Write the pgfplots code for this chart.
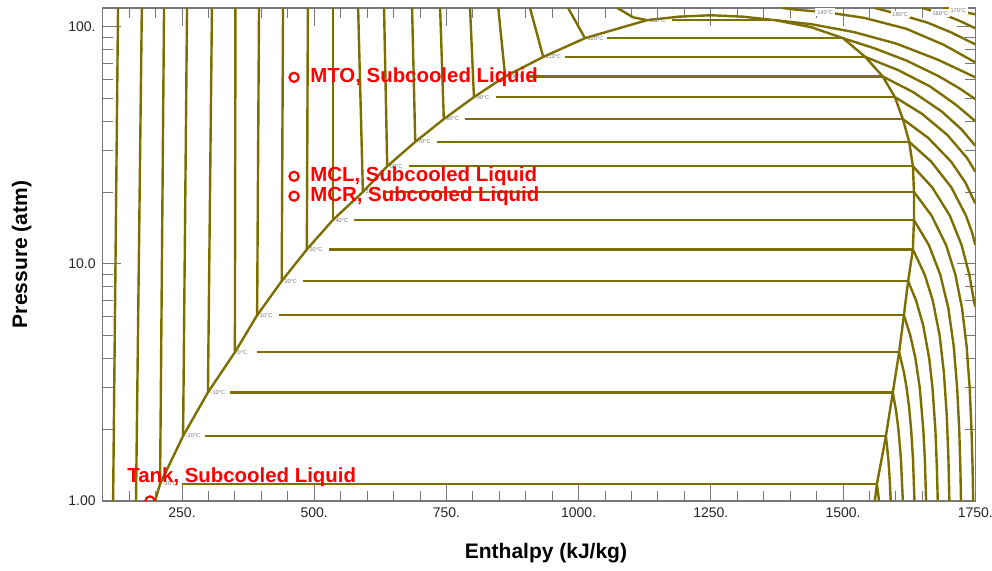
\documentclass[border=0pt]{standalone}
\usepackage{fontspec}
\setmainfont{Liberation Sans}
\usepackage{pgfplots}
\pgfplotsset{compat=1.18}
\definecolor{isoc}{RGB}{125,110,0}
\definecolor{frm}{RGB}{120,120,120}
\pgfplotsset{isol/.style={draw=isoc, line width=1.2pt, mark=none}}
\tikzset{
  tl/.style={anchor=west, xshift=1.2pt, font=\fontsize{2.8}{3}\selectfont, text=black!55, inner sep=0pt},
  tt/.style={anchor=center, font=\fontsize{2.8}{3}\selectfont, text=black!55, fill=white, inner sep=0.9pt},
  rl/.style={anchor=west, text=red, font=\bfseries\fontsize{10.2}{12}\selectfont, inner sep=0pt},
}

\begin{document}
\begin{tikzpicture}
\useasboundingbox (-51.35pt,-35pt) rectangle (444.65pt,250.5pt);
\begin{axis}[
  scale only axis, width=436.3pt, height=246.5pt,
  ymode=log, xmin=100, xmax=1750, ymin=1, ymax=120,
  xtick={250,500,...,1750},
  xticklabels={250.,500.,750.,1000.,1250.,1500.,1750.},
  minor xtick={150,200,...,1700},
  ytick={1,10,100}, yticklabels={1.00,10.0,100.},
  minor ytick={2,3,4,5,6,7,8,9,20,30,40,50,60,70,80,90},
  tick align=inside,
  major tick length=9pt, minor tick length=5pt,
  tick style={frm, line width=0.5pt},
  axis line style={frm, line width=0.6pt},
  ticklabel style={font=\fontsize{7}{8}\selectfont, text=black!85},
  xlabel={Enthalpy (kJ/kg)}, ylabel={Pressure (atm)},
  label style={font=\bfseries\fontsize{10.5}{12}\selectfont},
  xlabel style={at={(axis description cs:0.508,-0.1055)}, anchor=center},
  ylabel style={at={(axis description cs:-0.0928,0.5)}, anchor=center},
  clip marker paths=true,
]
% two-phase isotherms (start after the label gap)
\addplot[isol] coordinates {(250,1.18) (1564,1.18)};
\addplot[isol] coordinates {(293,1.88) (1581,1.88)};
\addplot[isol] coordinates {(340,2.87) (1594,2.87)};
\addplot[isol] coordinates {(391,4.24) (1606,4.24)};
\addplot[isol] coordinates {(433,6.07) (1615,6.07)};
\addplot[isol] coordinates {(479.5,8.46) (1623,8.46)};
\addplot[isol] coordinates {(527,11.5) (1632,11.5)};
\addplot[isol] coordinates {(576,15.3) (1634,15.3)};
\addplot[isol] coordinates {(633,20.1) (1634,20.1)};
\addplot[isol] coordinates {(679,25.8) (1632,25.8)};
\addplot[isol] coordinates {(732,32.7) (1625,32.7)};
\addplot[isol] coordinates {(786,40.8) (1613,40.8)};
\addplot[isol] coordinates {(843,50.5) (1598,50.5)};
\addplot[isol] coordinates {(902,61.7) (1575,61.7)};
\addplot[isol] coordinates {(974,74.6) (1542,74.6)};
\addplot[isol] coordinates {(1053,89.5) (1500,89.5)};
\addplot[isol] coordinates {(1177,106.6) (1372,106.6)};

% saturation dome
\addplot[isol] coordinates {
(199,1.0) (208.5,1.18) (252,1.88) (299,2.87) (350,4.24) (392,6.07) (438.5,8.46)
(486,11.5) (535,15.3) (592,20.1) (638,25.8) (691,32.7) (745,40.8) (802,50.5)
(861,61.7) (933,74.6) (1012,89.5) (1129,106.6) (1190,110.3) (1250,111.8)
(1310,110.3) (1372,106.6) (1440,99.5) (1500,89.5) (1542,74.6) (1575,61.7)
(1598,50.5) (1613,40.8) (1625,32.7) (1632,25.8) (1634,20.1) (1634,15.3)
(1632,11.5) (1623,8.46) (1615,6.07) (1606,4.24) (1594,2.87) (1581,1.88)
(1564,1.18) (1560,1.0)};

% subcooled liquid isotherms
\addplot[isol] coordinates {(119.7,1) (129,120)};
\addplot[isol] coordinates {(163,1) (174,120)};
\addplot[isol] coordinates {(208.5,1.18) (216,120)};
\addplot[isol] coordinates {(252,1.88) (259.5,120)};
\addplot[isol] coordinates {(299,2.87) (306.6,120)};
\addplot[isol] coordinates {(350,4.24) (351,120)};
\addplot[isol] coordinates {(392,6.07) (395.6,120)};
\addplot[isol] coordinates {(438.5,8.46) (441,120)};
\addplot[isol] coordinates {(486,11.5) (488,120)};
\addplot[isol] coordinates {(535,15.3) (535,120)};
\addplot[isol] coordinates {(592,20.1) (583,120)};
\addplot[isol] coordinates {(638,25.8) (632,120)};
\addplot[isol] coordinates {(691,32.7) (685,120)};
\addplot[isol] coordinates {(745,40.8) (738,120)};
\addplot[isol] coordinates {(802,50.5) (794.6,120)};
\addplot[isol] coordinates {(861,61.7) (848,120)};
\addplot[isol] coordinates {(933,74.6) (908,120)};
\addplot[isol] coordinates {(1012,89.5) (980,120)};
\addplot[isol] coordinates {(1129,106.6) (1103,109.6) (1073,120)};

% superheated vapour isotherms
\addplot[isol] coordinates {(1564,1.18) (1568,1)};
\addplot[isol] coordinates {(1581,1.88) (1585.6,1.5) (1588.5,1.2) (1590,1)};
\addplot[isol] coordinates {(1594,2.87) (1600.2,2.4) (1604.7,2) (1609.4,1.5) (1613,1)};
\addplot[isol] coordinates {(1606,4.24) (1614.9,3.5) (1620.1,3) (1624.7,2.5) (1628.7,2) (1632.2,1.5) (1635,1)};
\addplot[isol] coordinates {(1615,6.07) (1627,5) (1636.8,4) (1645,3) (1651.7,2) (1654.6,1.5) (1657,1)};
\addplot[isol] coordinates {(1623,8.46) (1638.1,7) (1651.5,5.5) (1662.8,4) (1669.1,3) (1674.5,2) (1677.3,1.4) (1679,1)};
\addplot[isol] coordinates {(1632,11.5) (1654.4,9) (1669.6,7) (1682.5,5) (1690.5,3.5) (1696,2.3) (1699.2,1.5) (1701,1)};
\addplot[isol] coordinates {(1634,15.3) (1662.2,12) (1683.8,9) (1699,6.5) (1709.2,4.5) (1715.7,3) (1719.6,2) (1721.7,1.4) (1723,1)};
\addplot[isol] coordinates {(1634,20.1) (1667.2,16) (1694.8,12) (1712.4,9) (1724.9,6.5) (1733.6,4.5) (1739.4,3) (1742.8,2) (1744.8,1.4) (1746,1)};
\addplot[isol] coordinates {(1632,25.8) (1668.7,21) (1701.7,16) (1724.1,12) (1738.7,9) (1747.3,7) (1750,6.6)};
\addplot[isol] coordinates {(1625,32.7) (1666.6,27) (1704.8,21) (1732.2,16) (1744.3,13.5) (1750,12.0)};
\addplot[isol] coordinates {(1613,40.8) (1660.9,34) (1704.2,27) (1731.4,22) (1750,18.0)};
\addplot[isol] coordinates {(1598,50.5) (1648.7,43) (1697,35) (1734.2,28) (1750,24.5)};
\addplot[isol] coordinates {(1575,61.7) (1632.6,53) (1686.1,44) (1723.5,37) (1750,31.5)};
\addplot[isol] coordinates {(1542,74.6) (1605,65.5) (1664.5,56) (1712.8,47) (1750,40.0)};
\addplot[isol] coordinates {(1500,89.5) (1560,81) (1620,72) (1680,62) (1720,55) (1750,49.5)};
\addplot[isol] coordinates {(1372,106.6) (1440,102.5) (1520,95) (1600,85) (1680,72.5) (1750,61.2)};
\addplot[isol] coordinates {(1385,120) (1420,117.5) (1470,115) (1540,109) (1620,98) (1690,84) (1750,70.8)};
\addplot[isol] coordinates {(1560,120) (1605,113) (1660,104) (1705,94.5) (1750,84.3)};
\addplot[isol] coordinates {(1650,120) (1684,114) (1720,106) (1750,98.5)};
\addplot[isol] coordinates {(1690,120) (1716,117) (1750,112.8)};

% isotherm labels
\node[tl] at (axis cs:208.5,1.18) {-30°C};
\node[tl] at (axis cs:252,1.88) {-20°C};
\node[tl] at (axis cs:299,2.87) {-10°C};
\node[tl] at (axis cs:350,4.24) {0°C};
\node[tl] at (axis cs:392,6.07) {10°C};
\node[tl] at (axis cs:438.5,8.46) {20°C};
\node[tl] at (axis cs:486,11.5) {30°C};
\node[tl] at (axis cs:535,15.3) {40°C};
\node[tl] at (axis cs:592,20.1) {50°C};
\node[tl] at (axis cs:638,25.8) {60°C};
\node[tl] at (axis cs:691,32.7) {70°C};
\node[tl] at (axis cs:745,40.8) {80°C};
\node[tl] at (axis cs:802,50.5) {90°C};
\node[tl] at (axis cs:861,61.7) {100°C};
\node[tl] at (axis cs:933,74.6) {110°C};
\node[tl] at (axis cs:1012,89.5) {120°C};
\node[tl] at (axis cs:1129,106.6) {130°C};
\node[tt] at (axis cs:1466,115.3) {140°C};
\node[tt] at (axis cs:1608,112.6) {150°C};
\node[tt] at (axis cs:1684,114) {160°C};
\node[tt] at (axis cs:1718,116.7) {170°C};

% state points
\addplot[only marks, mark=o, mark size=2.3pt, red, line width=1.1pt]
  coordinates {(461.8,61.2) (461.8,23.4) (461.8,19.3) (189.5,1.0)};
\node[rl] at (axis cs:492,61.2) {MTO, Subcooled Liquid};
\node[rl] at (axis cs:492,23.4) {MCL, Subcooled Liquid};
\node[rl] at (axis cs:492,19.3) {MCR, Subcooled Liquid};
\node[rl] at (axis cs:146,1.262) {Tank, Subcooled Liquid};
\end{axis}
\end{tikzpicture}
\end{document}
